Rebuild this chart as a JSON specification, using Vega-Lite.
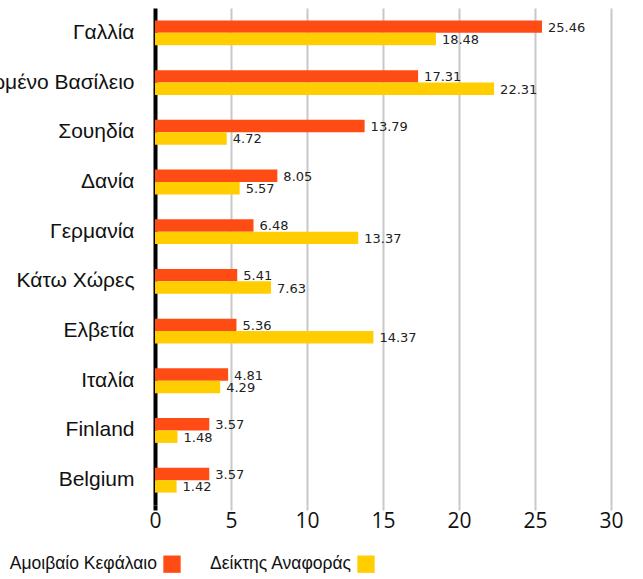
{
  "$schema": "https://vega.github.io/schema/vega-lite/v6.json",
  "autosize": "none",
  "width": 456,
  "height": 497,
  "padding": {"left": 155, "top": 8, "right": 32, "bottom": 74},
  "background": "white",
  "data": {"values": [
    {"country": "Γαλλία", "series": "Αμοιβαίο Κεφάλαιο", "value": 25.46},
    {"country": "Γαλλία", "series": "Δείκτης Αναφοράς", "value": 18.48},
    {"country": "Ηνωμένο Βασίλειο", "series": "Αμοιβαίο Κεφάλαιο", "value": 17.31},
    {"country": "Ηνωμένο Βασίλειο", "series": "Δείκτης Αναφοράς", "value": 22.31},
    {"country": "Σουηδία", "series": "Αμοιβαίο Κεφάλαιο", "value": 13.79},
    {"country": "Σουηδία", "series": "Δείκτης Αναφοράς", "value": 4.72},
    {"country": "Δανία", "series": "Αμοιβαίο Κεφάλαιο", "value": 8.05},
    {"country": "Δανία", "series": "Δείκτης Αναφοράς", "value": 5.57},
    {"country": "Γερμανία", "series": "Αμοιβαίο Κεφάλαιο", "value": 6.48},
    {"country": "Γερμανία", "series": "Δείκτης Αναφοράς", "value": 13.37},
    {"country": "Κάτω Χώρες", "series": "Αμοιβαίο Κεφάλαιο", "value": 5.41},
    {"country": "Κάτω Χώρες", "series": "Δείκτης Αναφοράς", "value": 7.63},
    {"country": "Ελβετία", "series": "Αμοιβαίο Κεφάλαιο", "value": 5.36},
    {"country": "Ελβετία", "series": "Δείκτης Αναφοράς", "value": 14.37},
    {"country": "Ιταλία", "series": "Αμοιβαίο Κεφάλαιο", "value": 4.81},
    {"country": "Ιταλία", "series": "Δείκτης Αναφοράς", "value": 4.29},
    {"country": "Finland", "series": "Αμοιβαίο Κεφάλαιο", "value": 3.57},
    {"country": "Finland", "series": "Δείκτης Αναφοράς", "value": 1.48},
    {"country": "Belgium", "series": "Αμοιβαίο Κεφάλαιο", "value": 3.57},
    {"country": "Belgium", "series": "Δείκτης Αναφοράς", "value": 1.42}
  ]},
  "encoding": {
    "y": {
      "field": "country", "type": "nominal", "sort": null, "title": null,
      "scale": {"paddingInner": 0.5, "paddingOuter": 0.25},
      "axis": {"domain": false, "ticks": false, "labelFontSize": 21, "labelFont": "Liberation Sans", "labelColor": "#111", "labelPadding": 21, "labelLimit": 300}
    },
    "yOffset": {
      "field": "series", "type": "nominal",
      "sort": ["Αμοιβαίο Κεφάλαιο", "Δείκτης Αναφοράς"],
      "scale": {"paddingInner": 0, "paddingOuter": 0}
    },
    "x": {
      "field": "value", "type": "quantitative", "title": null,
      "scale": {"domain": [0, 30], "nice": false},
      "axis": {
        "values": [0, 5, 10, 15, 20, 25, 30],
        "domain": false,
        "grid": true,
        "gridColor": {"condition": {"test": "datum.value === 0", "value": "#000000"}, "value": "#c8c8c8"},
        "gridWidth": {"condition": {"test": "datum.value === 0", "value": 4}, "value": 2},
        "tickColor": {"condition": {"test": "datum.value === 0", "value": "#000000"}, "value": "#c8c8c8"},
        "tickWidth": {"condition": {"test": "datum.value === 0", "value": 4}, "value": 2},
        "tickSize": 5,
        "labelPadding": 0,
        "labelFontSize": 21,
        "labelFont": "Open Sans",
        "labelColor": "#111",
        "labelFlush": false
      }
    }
  },
  "layer": [
    {
      "mark": {"type": "bar"},
      "encoding": {
        "color": {
          "field": "series", "type": "nominal", "title": null,
          "scale": {"domain": ["Αμοιβαίο Κεφάλαιο", "Δείκτης Αναφοράς"], "range": ["#FF4B14", "#FFCD00"]},
          "legend": {
            "orient": "none", "legendX": 8, "legendY": 547,
            "direction": "horizontal",
            "symbolType": "square", "symbolSize": 300, "symbolStrokeWidth": 0,
            "labelFontSize": 17.5, "labelFont": "Liberation Sans", "labelColor": "#111",
            "labelAlign": "right", "labelOffset": -24,
            "columnPadding": 28, "labelLimit": 300
          }
        }
      }
    },
    {
      "mark": {"type": "text", "align": "left", "baseline": "middle", "dx": 6, "dy": 1, "fontSize": 13, "font": "DejaVu Sans", "color": "#222"},
      "encoding": {
        "text": {"field": "value", "type": "quantitative", "format": ".2f"}
      }
    }
  ],
  "config": {"view": {"stroke": null}}
}
